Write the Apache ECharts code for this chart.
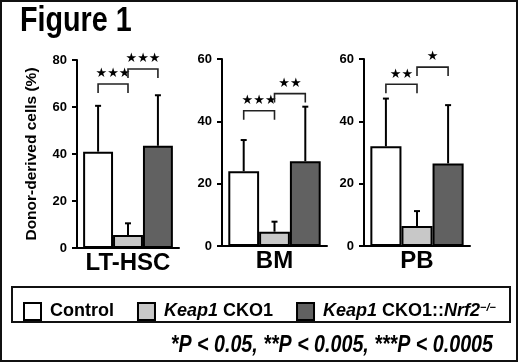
<!DOCTYPE html>
<html>
<head>
<meta charset="utf-8">
<script src="https://cdn.jsdelivr.net/npm/echarts@6/dist/echarts.min.js"></script>
<style>
  html, body { margin: 0; padding: 0; background: #fff; }
  #chart { width: 520px; height: 363px; }
</style>
</head>
<body>
<div id="chart"></div>
<script>
// data
const panels = ['LT-HSC', 'BM', 'PB'];
const groups = ['Control', 'Keap1 CKO1', 'Keap1 CKO1::Nrf2−/−'];
const controlMean = [41, 24, 32];
const controlSD = [19.5, 10, 15.3];
const keapMean = [5.5, 4.6, 6.4];
const keapSD = [5, 3.2, 4.8];
const nrfMean = [43.5, 27.2, 26.5];
const nrfSD = [21.5, 17.5, 18.7];
const yMax = [80, 60, 60];
const yStep = 20;
// significance brackets per panel: [from group, to group, height, number of stars]
const brackets = [
  [[0, 1, 69.8, 3], [1, 2, 76.2, 3]],
  [[0, 1, 43.4, 3], [1, 2, 48.9, 2]],
  [[0, 1, 51.9, 2], [1, 2, 57.4, 1]]
];
const titleText = 'Figure 1';
const footnote = '*P < 0.05, **P < 0.005, ***P < 0.0005';

const FONT = '"Liberation Sans", Arial, Helvetica, sans-serif';
const colors = ['#ffffff', '#c8c8c8', '#616161'];
const GAP = 0.12;
const SQUEEZE = 0.82; // the figure's lettering is horizontally condensed

const means = [controlMean, keapMean, nrfMean];
const sds = [controlSD, keapSD, nrfSD];

const grids = [
  { left: 77, top: 60, width: 102, height: 188 },
  { left: 222, top: 59, width: 105, height: 187 },
  { left: 364, top: 59, width: 106, height: 187 }
];

function barCenter(api, k) {
  const band = api.size([1, 0])[0];
  const barW = band * (1 - GAP) / 3;
  const c = api.coord([0, 0])[0];
  return c + (k - 1) * barW;
}

function renderError(params, api) {
  const k = api.value(1);
  const mean = api.value(2);
  const sd = api.value(3);
  const cx = barCenter(api, k);
  const y0 = api.coord([0, mean])[1];
  const y1 = api.coord([0, mean + sd])[1];
  return {
    type: 'group',
    children: [
      { type: 'line', shape: { x1: cx, y1: y0, x2: cx, y2: y1 }, style: { stroke: '#000', lineWidth: 2 } },
      { type: 'line', shape: { x1: cx - 3, y1: y1, x2: cx + 3, y2: y1 }, style: { stroke: '#000', lineWidth: 2 } }
    ]
  };
}

function renderBracket(params, api) {
  const xa = barCenter(api, api.value(1));
  const xb = barCenter(api, api.value(2));
  const y = api.coord([0, api.value(3)])[1];
  const n = api.value(4);
  return {
    type: 'group',
    children: [
      {
        type: 'polyline',
        shape: { points: [[xa, y + 9], [xa, y], [xb, y], [xb, y + 9]] },
        style: { stroke: '#222', lineWidth: 1.6, fill: null }
      },
      {
        type: 'text',
        x: (xa + xb) / 2,
        y: y - 10,
        style: {
          text: '★'.repeat(n),
          align: 'center',
          verticalAlign: 'middle',
          font: 'bold 13px "DejaVu Sans"',
          fill: '#000'
        }
      }
    ]
  };
}

const legendLabels = {
  'Control': '{b|Control}',
  'Keap1 CKO1': '{i|Keap1}{b| CKO1}',
  'Keap1 CKO1::Nrf2−/−': '{i|Keap1}{b| CKO1::}{i|Nrf2}{s|−/−}'
};

const xAxis = [], yAxis = [], series = [];
panels.forEach((p, i) => {
  xAxis.push({
    gridIndex: i,
    type: 'category',
    data: [p],
    axisLine: { lineStyle: { color: '#000', width: 2 } },
    axisTick: { show: false },
    axisLabel: { color: '#000', fontSize: 24, fontWeight: 'bold', fontFamily: FONT, margin: 3 }
  });
  yAxis.push({
    gridIndex: i,
    type: 'value',
    min: 0,
    max: yMax[i],
    interval: yStep,
    splitLine: { show: false },
    axisLine: { show: true, lineStyle: { color: '#000', width: 2 } },
    axisTick: { show: true, length: 5, lineStyle: { color: '#000', width: 2 } },
    axisLabel: { color: '#000', fontSize: 13, fontWeight: 'bold', fontFamily: FONT, margin: 10 },
    name: i === 0 ? 'Donor-derived cells (%)' : '',
    nameLocation: 'middle',
    nameGap: 37,
    nameTextStyle: { color: '#000', fontSize: 15.5, fontWeight: 'bold', fontFamily: FONT }
  });
  groups.forEach((g, k) => {
    series.push({
      name: g,
      type: 'bar',
      xAxisIndex: i,
      yAxisIndex: i,
      data: [means[k][i]],
      barGap: '0%',
      barCategoryGap: (GAP * 100) + '%',
      itemStyle: { color: colors[k], borderColor: '#000', borderWidth: 2 },
      emphasis: { disabled: true }
    });
  });
  series.push({
    type: 'custom',
    xAxisIndex: i,
    yAxisIndex: i,
    renderItem: renderError,
    data: groups.map((g, k) => [0, k, means[k][i], sds[k][i]]),
    z: 5
  });
  series.push({
    type: 'custom',
    xAxisIndex: i,
    yAxisIndex: i,
    renderItem: renderBracket,
    data: brackets[i].map(b => [0, b[0], b[1], b[2], b[3]]),
    z: 5
  });
});

const chart = echarts.init(document.getElementById('chart'));
chart.setOption({
  animation: false,
  backgroundColor: '#fff',
  grid: grids.map(g => Object.assign({ outerBoundsMode: 'none', containLabel: false }, g)),
  xAxis: xAxis,
  yAxis: yAxis,
  legend: {
    data: groups,
    left: 18,
    top: 297,
    width: 495,
    icon: 'rect',
    itemWidth: 17,
    itemHeight: 17,
    itemGap: 23,
    selectedMode: false,
    formatter: name => legendLabels[name],
    textStyle: {
      color: '#000',
      padding: [0, 0, 0, 4],
      rich: {
        b: { fontSize: 18, fontWeight: 'bold', fontFamily: FONT, color: '#000' },
        i: { fontSize: 18, fontWeight: 'bold', fontStyle: 'italic', fontFamily: FONT, color: '#000' },
        s: { fontSize: 11, fontWeight: 'bold', fontStyle: 'italic', fontFamily: FONT, color: '#000', verticalAlign: 'top' }
      }
    }
  },
  graphic: [
    { type: 'rect', shape: { x: 1, y: 1, width: 516, height: 360 }, style: { fill: 'none', stroke: '#111', lineWidth: 2 } },
    { type: 'rect', shape: { x: 12, y: 287, width: 498, height: 35 }, style: { fill: 'none', stroke: '#111', lineWidth: 2 } },
    {
      type: 'text',
      x: 20,
      y: 21,
      scaleX: SQUEEZE,
      style: {
        text: titleText,
        align: 'left',
        verticalAlign: 'middle',
        font: 'bold 35px ' + FONT,
        fill: '#000'
      }
    },
    {
      type: 'text',
      x: 493,
      y: 345,
      scaleX: SQUEEZE,
      style: {
        text: footnote,
        align: 'right',
        verticalAlign: 'middle',
        font: 'italic bold 24px ' + FONT,
        fill: '#000'
      }
    }
  ],
  series: series
});
</script>
</body>
</html>
